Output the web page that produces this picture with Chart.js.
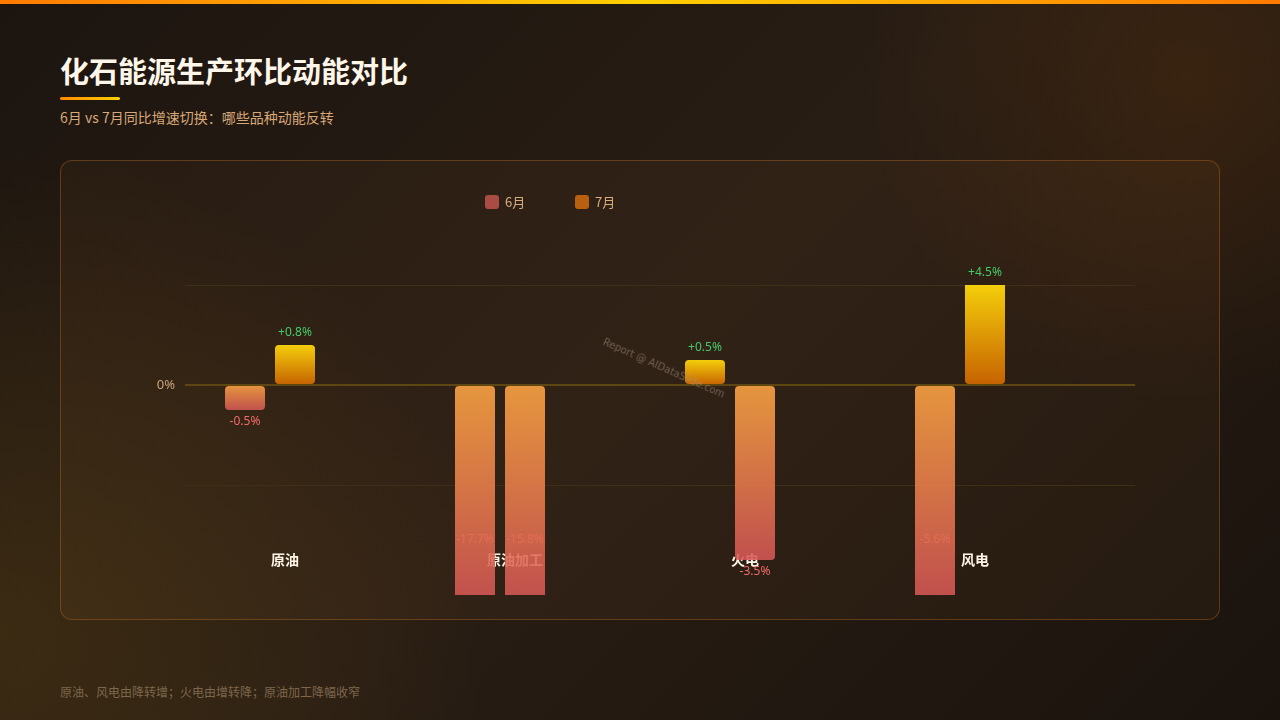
<!DOCTYPE html>
<html lang="zh">
<head>
<meta charset="utf-8">
<title>化石能源生产环比动能对比</title>
<script src="https://cdn.jsdelivr.net/npm/chart.js@4.4.1/dist/chart.umd.min.js"></script>
<style>
  html, body { margin: 0; padding: 0; }
  body {
    width: 1280px; height: 720px; overflow: hidden; position: relative;
    font-family: "Noto Sans CJK SC", "Noto Sans", sans-serif;
    background:
      radial-gradient(circle at 93% 11%, rgba(110, 58, 12, 0.28), transparent 24%),
      radial-gradient(circle at 0% 88%, rgba(110, 78, 20, 0.32), transparent 34%),
      linear-gradient(135deg, #1c150f 0%, #281d14 50%, #1a130d 100%);
  }
  .topbar { position: absolute; left: 0; top: 0; width: 1280px; height: 4px;
    background: linear-gradient(90deg, #ff7a00, #ffd000 50%, #ff7a00); }
  h1 { position: absolute; left: 60px; top: 50px; margin: 0; font-size: 29px; line-height: 40px;
    font-weight: 700; color: #fff6ea; }
  .accent { position: absolute; left: 60px; top: 97px; width: 60px; height: 3px; border-radius: 2px;
    background: linear-gradient(90deg, #ff8a00, #ffd000); }
  .sub { position: absolute; left: 60px; top: 107px; font-size: 14px; line-height: 20px; color: #d9a878; }
  .card { position: absolute; left: 60px; top: 160px; width: 1160px; height: 460px; box-sizing: border-box;
    border: 1px solid rgba(190, 110, 40, 0.38); border-radius: 12px; background: rgba(255, 170, 80, 0.045); }
  .chart-box { position: absolute; left: 60px; top: 160px; width: 1160px; height: 460px; }
  .legend { position: absolute; top: 195px; height: 14px; font-size: 13px; line-height: 14px; color: #d8ae80; }
  .legend i { position: absolute; left: 0; top: 0; width: 14px; height: 14px; border-radius: 3px; }
  .legend span { position: absolute; left: 20px; top: 0; white-space: nowrap; }
  .foot { position: absolute; left: 60px; top: 684px; font-size: 12px; line-height: 16px; color: #7d664c; }
  .wm { position: absolute; left: 664px; top: 368px; transform: translate(-50%, -50%) rotate(24deg);
    font-family: "DejaVu Sans", sans-serif; font-size: 10px; color: rgba(175, 155, 135, 0.5); white-space: nowrap; }
</style>
</head>
<body>
<div class="topbar"></div>
<h1>化石能源生产环比动能对比</h1>
<div class="accent"></div>
<div class="sub">6月 vs 7月同比增速切换：哪些品种动能反转</div>
<div class="card"></div>
<div class="chart-box"><canvas id="chart"></canvas></div>
<div class="legend" style="left:485px"><i style="background:#a84c44"></i><span>6月</span></div>
<div class="legend" style="left:575px"><i style="background:#b8600f"></i><span>7月</span></div>
<div class="wm">Report @ AIDataSlide.com</div>
<div class="foot">原油、风电由降转增；火电由增转降；原油加工降幅收窄</div>

<script>
const categories = ['原油', '原油加工', '火电', '风电'];
const seriesNames = ['6月', '7月'];
const june = [-0.5, -17.7, 0.5, -5.6];
const july = [0.8, -15.8, -3.5, 4.5];
const yTicks = [-2, 0, 2];

// gradient runs from the zero line to the bar end (kept inside the plot)
function barFill(c) {
    const chart = c.chart;
    const area = chart.chartArea;
    if (!area || c.type !== 'data') return 'rgba(240,140,60,0.9)';
    const v = c.raw.y;
    const ys = chart.scales.y;
    const base = ys.getPixelForValue(0);
    let end = ys.getPixelForValue(v);
    end = Math.min(Math.max(end, area.top), area.bottom);
    if (Math.abs(end - base) < 1) end = base + (v >= 0 ? -1 : 1);
    const g = chart.ctx.createLinearGradient(0, base, 0, end);
    if (v >= 0) {
        g.addColorStop(0, 'rgba(206,102,0,0.95)');
        g.addColorStop(1, 'rgba(255,216,10,0.95)');
    } else {
        g.addColorStop(0, 'rgba(255,166,68,0.88)');
        g.addColorStop(1, 'rgba(214,88,86,0.88)');
    }
    return g;
}

function valueText(v) {
    return (v > 0 ? '+' : '') + v.toFixed(1) + '%';
}

// category names and negative values sit under the bars, positive values on top
const labelPlugin = {
    id: 'barLabels',
    beforeDatasetsDraw(chart) {
        const { ctx, chartArea, scales } = chart;
        ctx.save();
        ctx.textAlign = 'center';
        ctx.textBaseline = 'middle';

        ctx.font = 'bold 14px "Noto Sans CJK SC", sans-serif';
        ctx.fillStyle = '#fff4e8';
        categories.forEach((c, i) => {
            ctx.fillText(c, scales.x.getPixelForValue(i) + 15, chartArea.bottom - 35);
        });

        ctx.font = '12px "Noto Sans", "Noto Sans CJK SC", sans-serif';
        ctx.fillStyle = '#f26b6b';
        chart.data.datasets.forEach((ds, di) => {
            chart.getDatasetMeta(di).data.forEach((bar, i) => {
                const v = ds.data[i].y;
                if (v >= 0) return;
                let y = bar.y + 12;
                if (bar.y > chartArea.bottom - 25) y = chartArea.bottom - 55;
                ctx.fillText(valueText(v), bar.x, y);
            });
        });
        ctx.restore();
    },
    afterDatasetsDraw(chart) {
        const { ctx, chartArea } = chart;
        ctx.save();
        ctx.textAlign = 'center';
        ctx.textBaseline = 'middle';
        ctx.font = '12px "Noto Sans", "Noto Sans CJK SC", sans-serif';
        ctx.fillStyle = '#45c96b';
        chart.data.datasets.forEach((ds, di) => {
            chart.getDatasetMeta(di).data.forEach((bar, i) => {
                const v = ds.data[i].y;
                if (v < 0) return;
                const y = Math.max(bar.y, chartArea.top) - 12;
                ctx.fillText(valueText(v), bar.x, y);
            });
        });
        ctx.restore();
    }
};

new Chart(document.getElementById('chart').getContext('2d'), {
    type: 'bar',
    data: {
        datasets: [
            { label: seriesNames[0], data: june.map((v, i) => ({ x: i, y: v })),
              backgroundColor: barFill, borderRadius: 4, borderSkipped: false,
              categoryPercentage: 100 / 230, barPercentage: 0.8 },
            { label: seriesNames[1], data: july.map((v, i) => ({ x: i, y: v })),
              backgroundColor: barFill, borderRadius: 4, borderSkipped: false,
              categoryPercentage: 100 / 230, barPercentage: 0.8 }
        ]
    },
    options: {
        responsive: true,
        maintainAspectRatio: false,
        animation: false,
        layout: { padding: { top: 125, right: 85, bottom: 25, left: 0 } },
        plugins: { legend: { display: false }, tooltip: { enabled: false } },
        scales: {
            x: {
                type: 'linear',
                display: false,
                offset: false,
                grid: { offset: false },
                min: -85 / 230,
                max: 3 + 175 / 230,
                afterBuildTicks: s => { s.ticks = categories.map((c, i) => ({ value: i })); }
            },
            y: {
                min: -4.2,
                max: 2,
                afterBuildTicks: s => { s.ticks = yTicks.map(v => ({ value: v })); },
                afterFit: s => { s.width = 125; },
                border: { display: false },
                grid: {
                    drawTicks: false,
                    color: c => c.tick && c.tick.value === 0 ? '#5e4613' : '#3f2f17',
                    lineWidth: c => c.tick && c.tick.value === 0 ? 2 : 1
                },
                ticks: {
                    padding: 10,
                    color: '#c8a47c',
                    font: { size: 13, family: '"Noto Sans", sans-serif' },
                    callback: v => v === 0 ? '0%' : ''
                }
            }
        }
    },
    plugins: [labelPlugin]
});
</script>
</body>
</html>
